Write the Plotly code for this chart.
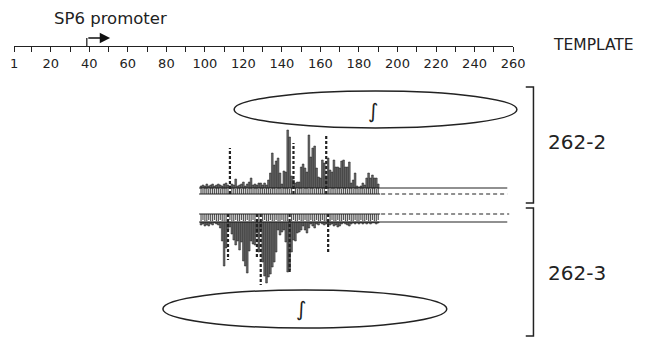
import plotly.graph_objects as go

# ---------------- data ----------------
positions = list(range(98, 191))  # nucleotide positions 98..190

top_solid = [2, 3, 2, 4, 2, 3, 4, 2, 3, 4,
             3, 2, 4, 5, 3, 2, 4, 3, 9, 2,
             3, 4, 6, 2, 4, 6, 10, 3, 4, 3,
             5, 5, 3, 5, 3, 8, 15, 35, 23, 27,
             30, 15, 4, 17, 16, 58, 51, 12, 8, 5,
             6, 6, 21, 24, 20, 16, 53, 31, 40, 42,
             20, 11, 10, 28, 25, 12, 30, 18, 16, 28,
             21, 21, 20, 27, 28, 21, 21, 26, 5, 8,
             15, 2, 1, 2, 5, 3, 10, 15, 10, 13,
             10, 10, 4]

top_dashed = [6, 5, 6, 6, 5, 6, 6, 5, 6, 6,
              5, 6, 6, 6, 5, 46, 6, 6, 5, 6,
              6, 5, 6, 6, 5, 6, 6, 5, 6, 6,
              5, 6, 6, 5, 6, 6, 5, 6, 6, 5,
              6, 6, 5, 6, 6, 6, 5, 6, 51, 6,
              5, 6, 6, 5, 6, 6, 5, 6, 6, 5,
              6, 6, 5, 6, 6, 59, 6, 5, 6, 6,
              5, 6, 6, 5, 6, 6, 5, 6, 6, 5,
              6, 6, 5, 6, 6, 5, 6, 6, 5, 6,
              6, 5, 6]

bottom_solid = [3, 2, 4, 3, 4, 2, 3, 1, 2, 3,
                6, 19, 44, 26, 8, 5, 12, 18, 23, 19,
                28, 20, 39, 44, 51, 29, 19, 22, 23, 11,
                30, 8, 40, 54, 61, 55, 52, 45, 40, 30,
                8, 13, 10, 8, 20, 50, 48, 30, 18, 19,
                11, 10, 8, 4, 8, 11, 6, 2, 4, 6,
                2, 3, 1, 2, 3, 2, 2, 3, 2, 4,
                3, 5, 4, 2, 1, 2, 3, 4, 2, 1,
                2, 1, 2, 1, 2, 1, 2, 1, 2, 1,
                1, 2, 1]

bottom_dashed = [7, 6, 7, 7, 6, 7, 7, 6, 7, 7,
                 6, 7, 7, 7, 46, 6, 7, 7, 6, 7,
                 7, 6, 7, 7, 6, 7, 7, 6, 7, 44,
                 7, 71, 7, 6, 7, 7, 6, 7, 7, 6,
                 7, 7, 6, 7, 7, 7, 59, 7, 6, 7,
                 7, 6, 7, 7, 6, 7, 7, 6, 7, 7,
                 6, 7, 7, 6, 7, 7, 39, 7, 6, 7,
                 7, 6, 7, 7, 6, 7, 7, 6, 7, 7,
                 6, 7, 7, 6, 7, 7, 6, 7, 7, 6,
                 7, 7, 6]

ruler_ticks = [1, 10, 20, 30, 40, 50, 60, 70, 80, 90, 100, 110, 120, 130,
               140, 150, 160, 170, 180, 190, 200, 210, 220, 230, 240, 250, 260]
ruler_labels = ["1", "", "20", "", "40", "", "60", "", "80", "", "100", "",
                "120", "", "140", "", "160", "", "180", "", "200", "", "220",
                "", "240", "", "260"]

assert len(top_solid) == len(positions) == len(top_dashed) == len(bottom_solid) == len(bottom_dashed)

# ---------------- layout constants ----------------
TOP_SOLID_BASE = 188
TOP_DASH_BASE = 194
BOT_DASH_BASE = 214
BOT_SOLID_BASE = 222
FONT = "DejaVu Sans"
INK = "#222"


def dashed_segments(pos, heights, base, sign, tall):
    xs, ys = [], []
    for p, h in zip(pos, heights):
        if (h >= 15) == tall:
            xs += [p, p, None]
            ys += [base, base + sign * h, None]
    return xs, ys


fig = go.Figure()

bar_marker = dict(color="#6a6a6a", line=dict(color="#1a1a1a", width=0.5))
fig.add_trace(go.Bar(x=positions, y=[-h for h in top_solid], base=TOP_SOLID_BASE,
                     width=0.9, marker=bar_marker, hoverinfo="skip", showlegend=False))
fig.add_trace(go.Bar(x=positions, y=bottom_solid, base=BOT_SOLID_BASE,
                     width=0.9, marker=bar_marker, hoverinfo="skip", showlegend=False))

for heights, base, sign in [(top_dashed, TOP_DASH_BASE, -1), (bottom_dashed, BOT_DASH_BASE, 1)]:
    sx, sy = dashed_segments(positions, heights, base, sign, False)
    fig.add_trace(go.Scatter(x=sx, y=sy, mode="lines",
                             line=dict(color="#555", width=1.2),
                             hoverinfo="skip", showlegend=False))
    lx, ly = dashed_segments(positions, heights, base, sign, True)
    fig.add_trace(go.Scatter(x=lx, y=ly, mode="lines",
                             line=dict(color=INK, width=2.2, dash="3px,2px"),
                             hoverinfo="skip", showlegend=False))

# invisible trace to host the ruler axis
fig.add_trace(go.Scatter(x=[1], y=[0], xaxis="x2", yaxis="y2", mode="markers",
                         marker=dict(opacity=0), hoverinfo="skip", showlegend=False))

shapes = []
line_k = dict(color=INK, width=1.2)
dash_k = dict(color=INK, width=1.2, dash="4px,3px")
# baselines
shapes.append(dict(type="line", xref="x", yref="y", x0=97, x1=257, y0=TOP_SOLID_BASE, y1=TOP_SOLID_BASE, line=line_k, layer="above"))
shapes.append(dict(type="line", xref="x", yref="y", x0=97, x1=191, y0=TOP_DASH_BASE, y1=TOP_DASH_BASE, line=line_k, layer="above"))
shapes.append(dict(type="line", xref="x", yref="y", x0=191.5, x1=257, y0=TOP_DASH_BASE, y1=TOP_DASH_BASE, line=dash_k, layer="above"))
shapes.append(dict(type="line", xref="x", yref="y", x0=97, x1=191, y0=BOT_DASH_BASE, y1=BOT_DASH_BASE, line=line_k, layer="above"))
shapes.append(dict(type="line", xref="x", yref="y", x0=191.5, x1=258, y0=BOT_DASH_BASE, y1=BOT_DASH_BASE, line=dash_k, layer="above"))
shapes.append(dict(type="line", xref="x", yref="y", x0=97, x1=257, y0=BOT_SOLID_BASE, y1=BOT_SOLID_BASE, line=line_k, layer="above"))
# ellipses
shapes.append(dict(type="circle", xref="x", yref="y", x0=115.2, x1=262, y0=91, y1=128,
                   line=dict(color=INK, width=1.5)))
shapes.append(dict(type="circle", xref="x", yref="y", x0=78.2, x1=225.6, y0=290, y1=328,
                   line=dict(color=INK, width=1.5)))
# brackets
shapes.append(dict(type="path", xref="x", yref="y", path="M 266.6,87 L 270.6,87 L 270.6,203 L 266.6,203",
                   line=dict(color=INK, width=1.5)))
shapes.append(dict(type="path", xref="x", yref="y", path="M 266.6,208 L 270.6,208 L 270.6,336 L 266.6,336",
                   line=dict(color=INK, width=1.5)))
# promoter bent arrow stem
shapes.append(dict(type="line", xref="x", yref="y", x0=38.7, x1=38.7, y0=46, y1=38,
                   line=dict(color="#111", width=1.2)))

annotations = [
    dict(x=50.8, y=38, ax=38.7, ay=38, xref="x", yref="y", axref="x", ayref="y",
         text="", showarrow=True, arrowhead=2, arrowsize=1.6, arrowwidth=1.3, arrowcolor="#111"),
    dict(x=20.5, y=18, xref="x", yref="y", xanchor="left", text="SP6 promoter", showarrow=False,
         font=dict(family=FONT, size=16.5, color=INK)),
    dict(x=279.5, y=45, xref="x", yref="y", xanchor="left", text="TEMPLATE", showarrow=False,
         font=dict(family=FONT, size=15.5, color=INK)),
    dict(x=293.4, y=142, xref="x", yref="y", text="262-2", showarrow=False,
         font=dict(family=FONT, size=20, color=INK)),
    dict(x=293.4, y=273, xref="x", yref="y", text="262-3", showarrow=False,
         font=dict(family=FONT, size=20, color=INK)),
    dict(x=187.1, y=111, xref="x", yref="y", text="∫", showarrow=False,
         font=dict(family=FONT, size=20, color=INK)),
    dict(x=150.1, y=309, xref="x", yref="y", text="∫", showarrow=False,
         font=dict(family=FONT, size=20, color=INK)),
]

fig.update_layout(
    width=645, height=337,
    margin=dict(l=0, r=0, t=0, b=0),
    paper_bgcolor="white", plot_bgcolor="rgba(0,0,0,0)",
    xaxis=dict(range=[-4.30, 322.28], domain=[0, 1], visible=False, fixedrange=True),
    yaxis=dict(range=[337, 0], domain=[0, 1], visible=False, fixedrange=True),
    xaxis2=dict(domain=[10.47 / 645, 522.0 / 645], range=[1, 260], anchor="y2",
                showline=True, linecolor=INK, linewidth=1.2,
                ticks="outside", ticklen=5, tickwidth=1.2, tickcolor=INK,
                tickmode="array", tickvals=ruler_ticks, ticktext=ruler_labels,
                tickfont=dict(family=FONT, size=13, color=INK),
                showgrid=False, zeroline=False, fixedrange=True),
    yaxis2=dict(domain=[1 - 46 / 337, 1 - 36 / 337], anchor="x2", visible=False, fixedrange=True),
    shapes=shapes, annotations=annotations,
    showlegend=False, barmode="overlay",
)

fig.write_html("out.html", config={"displayModeBar": False},
               post_script="document.body.style.margin='0';document.body.style.overflow='hidden';")
